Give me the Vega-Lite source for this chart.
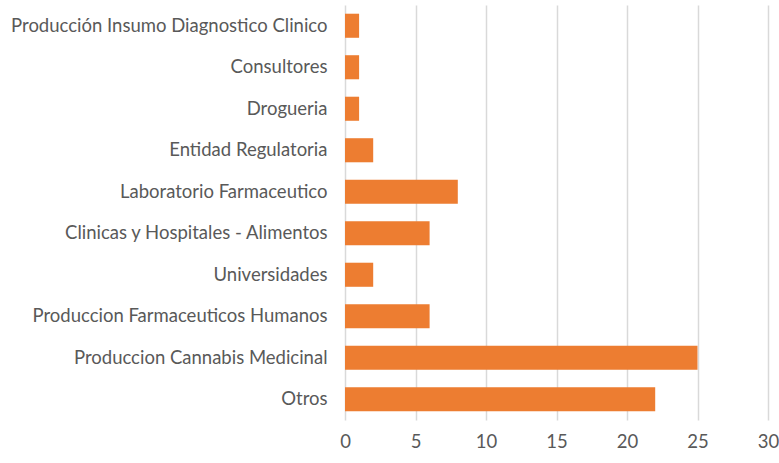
{
  "$schema": "https://vega.github.io/schema/vega-lite/v6.json",
  "width": 423,
  "height": 415,
  "autosize": "none",
  "padding": {"left": 345, "top": 5, "right": 11, "bottom": 43},
  "background": "white",
  "data": {
    "values": [
      {"categoria": "Producción Insumo Diagnostico Clinico", "valor": 1},
      {"categoria": "Consultores", "valor": 1},
      {"categoria": "Drogueria\u00a0", "valor": 1},
      {"categoria": "Entidad Regulatoria", "valor": 2},
      {"categoria": "Laboratorio Farmaceutico\u00a0", "valor": 8},
      {"categoria": "Clinicas y Hospitales - Alimentos", "valor": 6},
      {"categoria": "Universidades", "valor": 2},
      {"categoria": "Produccion Farmaceuticos Humanos\u00a0", "valor": 6},
      {"categoria": "Produccion Cannabis Medicinal", "valor": 25},
      {"categoria": "Otros", "valor": 22}
    ]
  },
  "mark": {"type": "bar", "color": "#ED7D31"},
  "encoding": {
    "y": {
      "field": "categoria",
      "type": "nominal",
      "sort": null,
      "scale": {"paddingInner": 0.42, "paddingOuter": 0.21},
      "axis": {
        "title": null,
        "domain": false,
        "ticks": false,
        "labelFont": "Lato",
        "labelFontSize": 18.5,
        "labelColor": "#595959",
        "labelPadding": 18,
        "labelLimit": 400
      }
    },
    "x": {
      "field": "valor",
      "type": "quantitative",
      "scale": {"domain": [0, 30], "nice": false},
      "axis": {
        "title": null,
        "values": [0, 5, 10, 15, 20, 25, 30],
        "domain": false,
        "ticks": false,
        "grid": true,
        "gridColor": "#D9D9D9",
        "gridWidth": 1.5,
        "labelFont": "Lato",
        "labelFontSize": 18.5,
        "labelColor": "#595959",
        "labelPadding": 12,
        "labelFlush": false
      }
    }
  },
  "config": {"view": {"stroke": null}}
}
